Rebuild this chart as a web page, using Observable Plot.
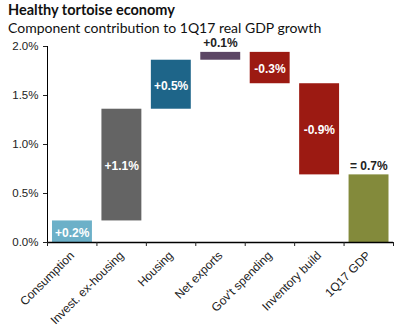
<!DOCTYPE html>
<html><head><meta charset="utf-8">
<script src="https://cdn.jsdelivr.net/npm/d3@7"></script>
<script src="https://cdn.jsdelivr.net/npm/@observablehq/plot@0.6"></script>
<style>
body{margin:0;background:#fff;width:401px;height:333px;overflow:hidden;font-family:"Liberation Sans",Arial,sans-serif}
#t{position:absolute;left:8px;top:1px;font:bold 14.5px Lato,"Open Sans",sans-serif;color:#111}
#s{position:absolute;left:8px;top:19px;font:14px Lato,"Open Sans",sans-serif;color:#111}
#c{position:absolute;left:0;top:36px}
</style></head><body>
<div id="t">Healthy tortoise economy</div>
<div id="s">Component contribution to 1Q17 real GDP growth</div>
<div id="c"></div>
<script>
const categories = ["Consumption","Invest. ex-housing","Housing","Net exports","Gov't spending","Inventory build","1Q17 GDP"];
const starts = [0, 0.22, 1.36, 1.86, 1.94, 1.62, 0];
const ends   = [0.22, 1.36, 1.86, 1.94, 1.62, 0.69, 0.69];
const labels = ["+0.2%","+1.1%","+0.5%","+0.1%","-0.3%","-0.9%","= 0.7%"];
const colors = ["#6cb0c8","#646464","#1e6589","#5c4664","#9c1a12","#9c1a12","#838a3b"];
const labelInside = [true,true,true,false,true,true,false];
const yTicks = [0,0.5,1.0,1.5,2.0];

const data = categories.map((c,i)=>({i, c, y1: starts[i], y2: ends[i], label: labels[i], color: colors[i], inside: labelInside[i]}));

const chart = Plot.plot({
  width: 401, height: 297,
  marginTop: 10, marginBottom: 91, marginLeft: 47, marginRight: 8,
  style: {fontFamily: '"Liberation Sans",Arial,sans-serif', fontSize: "11px", color: "#222"},
  x: {type: "linear", domain: [0, 7], axis: null},
  y: {domain: [0, 2], axis: null},
  marks: [
    Plot.rect(data, {x1: d=>d.i, x2: d=>d.i+1, y1: "y1", y2: "y2", fill: "color", insetLeft: 5, insetRight: 4.5}),
    Plot.text(data.filter(d=>d.inside), {x: d=>d.i+0.5, y: d=>(d.y1+d.y2)/2, text: "label", fill: "white", fontWeight: "bold", fontSize: 12, dy: 1}),
    Plot.text(data.filter(d=>!d.inside), {x: d=>d.i+0.5, y: d=>Math.max(d.y1,d.y2), text: "label", fill: "#222", fontWeight: "bold", fontSize: 12, dy: -9}),
    Plot.axisY({ticks: yTicks, tickFormat: d=>d.toFixed(1)+"%", tickSize: 4, tickPadding: 5, fontSize: 11.5}),
    Plot.ruleX([0], {stroke: "#000"}),
    Plot.ruleY([0], {stroke: "#000", strokeWidth: 1.3}),
    Plot.axisX({ticks: d3.range(0, 8), tickSize: 4, tickFormat: ()=>""}),
    Plot.axisX({ticks: d3.range(0, 7).map(i=>i+0.5), tickSize: 0, tickPadding: 11, tickRotate: -45, tickFormat: d=>categories[Math.floor(d)], fontSize: 12})
  ]
});
document.getElementById("c").appendChild(chart);
</script>
</body></html>
